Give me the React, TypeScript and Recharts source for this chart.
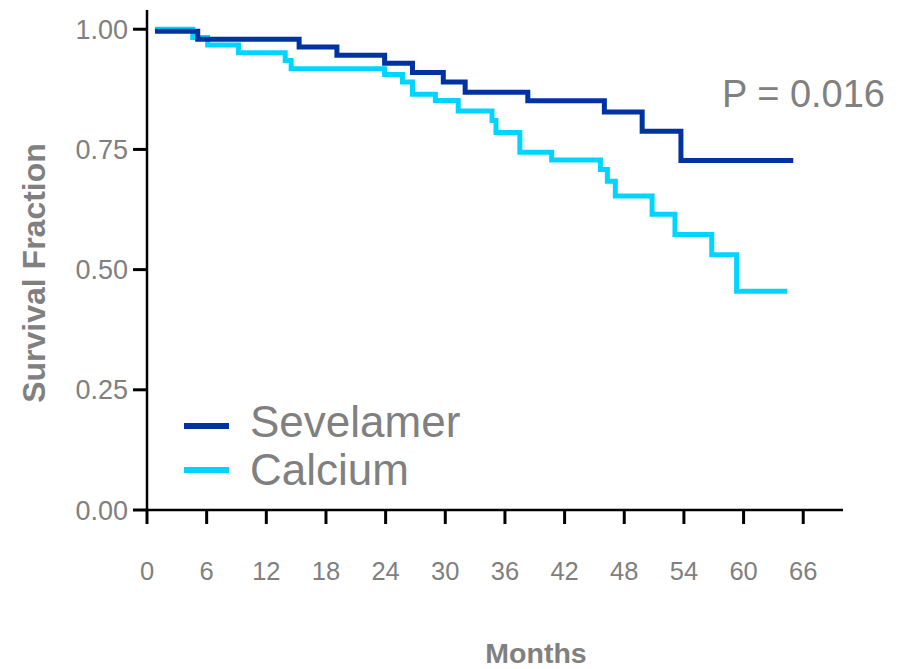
import React from "react";
import { LineChart, Line, XAxis, YAxis } from "recharts";

// Kaplan-Meier step points (months, survival fraction)
const sevelamerMonths = [0.8, 5.1, 15.3, 19.1, 23.9, 26.7, 29.8, 32.0, 38.3, 46.0, 49.8, 53.7, 65.0];
const sevelamerSurv = [0.996, 0.979, 0.963, 0.946, 0.929, 0.91, 0.89, 0.869, 0.851, 0.828, 0.788, 0.727, 0.727];

const calciumMonths = [
  0.8, 4.6, 6.1, 9.2, 13.9, 14.5, 23.9, 25.7, 26.7, 29.0, 31.3, 34.7, 35.1, 37.5, 40.7, 45.6, 46.3, 47.1, 50.8,
  53.1, 56.8, 59.3, 64.4,
];
const calciumSurv = [
  1.0, 0.983, 0.967, 0.951, 0.935, 0.918, 0.906, 0.89, 0.865, 0.852, 0.83, 0.81, 0.785, 0.744, 0.728, 0.708, 0.684,
  0.653, 0.615, 0.573, 0.531, 0.455, 0.455,
];

const xTicks = [0, 6, 12, 18, 24, 30, 36, 42, 48, 54, 60, 66];
const yTicks = [0, 0.25, 0.5, 0.75, 1.0];

const seriesNames = ["Sevelamer", "Calcium"];
const pValueText = "P = 0.016";

const SEV_COLOR = "#0033a0";
const CAL_COLOR = "#00d4ff";
const TEXT_GRAY = "#808080";
const FONT = "'Liberation Sans', Arial, Helvetica, sans-serif";

const toRows = (months: number[], surv: number[]) => months.map((t, i) => ({ t, s: surv[i] }));

const sevelamerData = toRows(sevelamerMonths, sevelamerSurv);
const calciumData = toRows(calciumMonths, calciumSurv);

export default function App() {
  const W = 901;
  const H = 669;
  const colors = [SEV_COLOR, CAL_COLOR];

  return (
    <div style={{ position: "fixed", left: 0, top: 0, width: W, height: H, background: "#fff" }}>
      <LineChart width={W} height={H} margin={{ top: 10, right: 58, left: 0, bottom: 0 }}>
        <XAxis
          type="number"
          dataKey="t"
          domain={[0, 70]}
          ticks={xTicks}
          interval={0}
          height={159}
          allowDuplicatedCategory={false}
          axisLine={{ stroke: "#000", strokeWidth: 2.5 }}
          tickLine={{ stroke: "#000", strokeWidth: 3 }}
          tickSize={14}
          tickMargin={38}
          tick={{ fill: TEXT_GRAY, fontSize: 25.5, fontFamily: FONT }}
        />
        <YAxis
          type="number"
          dataKey="s"
          domain={[0, 1.04]}
          ticks={yTicks}
          interval={0}
          width={147}
          axisLine={{ stroke: "#000", strokeWidth: 2.5 }}
          tickLine={{ stroke: "#000", strokeWidth: 3 }}
          tickSize={14}
          tickMargin={5}
          tickFormatter={(v: number) => v.toFixed(2)}
          tick={{ fill: TEXT_GRAY, fontSize: 27, fontFamily: FONT }}
        />
        <Line
          data={calciumData}
          dataKey="s"
          name={seriesNames[1]}
          type="stepAfter"
          stroke={CAL_COLOR}
          strokeWidth={5}
          dot={false}
          isAnimationActive={false}
        />
        <Line
          data={sevelamerData}
          dataKey="s"
          name={seriesNames[0]}
          type="stepAfter"
          stroke={SEV_COLOR}
          strokeWidth={5}
          dot={false}
          isAnimationActive={false}
        />
      </LineChart>
      {/* axis titles, legend and p-value */}
      <svg
        width={W}
        height={H}
        style={{ position: "absolute", left: 0, top: 0, pointerEvents: "none" }}
        fontFamily={FONT}
      >
        <text
          x={0}
          y={0}
          transform="translate(45 273) rotate(-90)"
          textAnchor="middle"
          fontSize={32}
          fontWeight="bold"
          fill={TEXT_GRAY}
        >
          Survival Fraction
        </text>
        <text x={536} y={663} textAnchor="middle" fontSize={28.5} fontWeight="bold" fill={TEXT_GRAY}>
          Months
        </text>
        <text x={885} y={107} textAnchor="end" fontSize={38} fill={TEXT_GRAY}>
          {pValueText}
        </text>
        {seriesNames.map((name, i) => (
          <g key={name}>
            <line x1={184} x2={229} y1={426 + i * 44} y2={426 + i * 44} stroke={colors[i]} strokeWidth={6} />
            <text x={250} y={437 + i * 48} fontSize={44} fill={TEXT_GRAY}>
              {name}
            </text>
          </g>
        ))}
      </svg>
    </div>
  );
}
